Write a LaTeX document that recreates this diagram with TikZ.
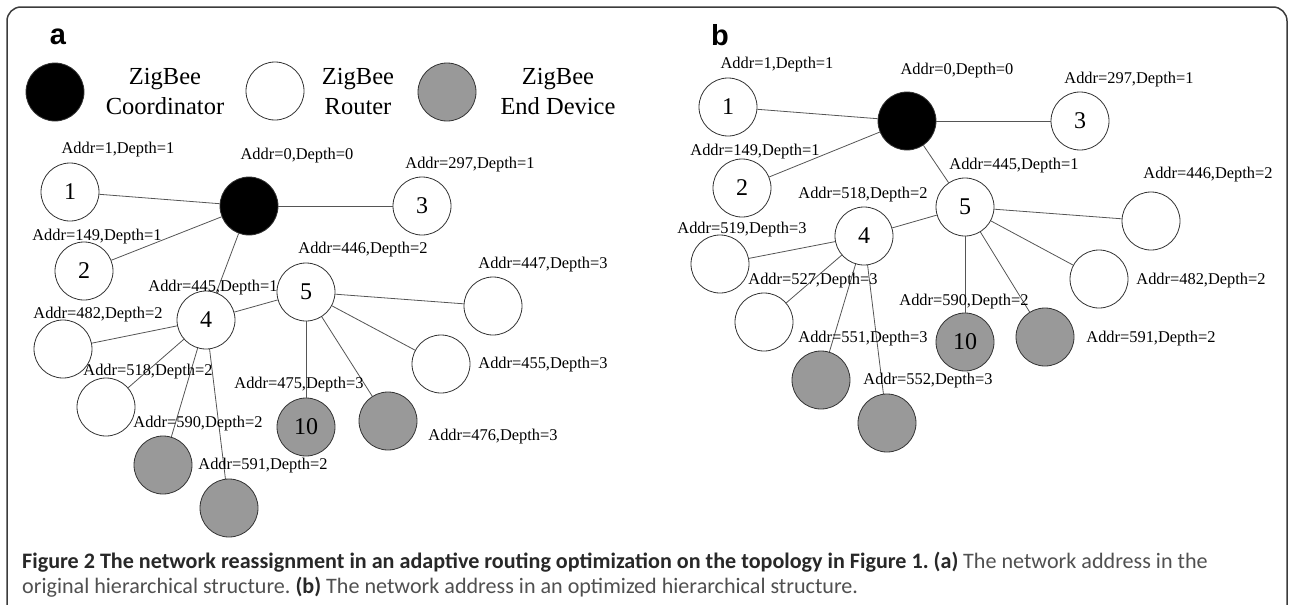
\documentclass[tikz,border=0pt]{standalone}
\usepackage{fontspec}
\setmainfont{Liberation Serif}
\newfontfamily\panelfont{Liberation Sans}
\newfontfamily\capfont{Carlito}
\definecolor{devgray}{RGB}{153,153,153}
\definecolor{framecol}{RGB}{60,60,60}
\definecolor{edgecol}{RGB}{85,85,85}
\definecolor{capdark}{RGB}{40,40,40}
\definecolor{caplight}{RGB}{80,80,80}
\begin{document}
\frenchspacing
\begin{tikzpicture}[x=1pt,y=-1pt,
  nd/.style={circle, draw=black!80, line width=0.8pt, minimum size=58pt, inner sep=0pt, font=\fontsize{24}{24}\selectfont},
  coord/.style={nd, fill=black},
  router/.style={nd, fill=white},
  enddev/.style={nd, fill=devgray},
  lbl/.style={anchor=center, inner sep=0pt, text height=11pt, text depth=0pt, font=\fontsize{16.4}{18}\selectfont},
  edge/.style={draw=edgecol, line width=0.8pt},
  legtxt/.style={align=center, inner sep=0pt, font=\fontsize{24.5}{30}\selectfont},
  panel/.style={anchor=base, inner sep=0pt, font=\panelfont\bfseries\fontsize{29}{29}\selectfont},
  capline/.style={anchor=base west, inner sep=0pt, font=\capfont\fontsize{22.1}{25}\selectfont, text=caplight}
]
\useasboundingbox (0,0) rectangle (1293,605);
% frame
\draw[framecol, line width=1.5pt, rounded corners=14pt] (7,620) -- (7,7) -- (1287,7) -- (1287,620);

% ---------- panel a ----------
\node[panel] (pa) at (58,44) {a};
% legend
\node[coord] (lg1) at (55,92) {};
\node[legtxt] (lt1) at (165,92) {ZigBee\\Coordinator};
\node[router] (lg2) at (275,91) {};
\node[legtxt] (lt2) at (358,92) {ZigBee\\Router};
\node[enddev] (lg3) at (447,92) {};
\node[legtxt] (lt3) at (558,92) {ZigBee\\End Device};

\node[coord] (a0) at (249,206) {};
\node[router] (a1) at (70,192) {1};
\node[router] (a3) at (422,206) {3};
\node[router] (a2) at (84,271) {2};
\node[router] (a4) at (206,320) {4};
\node[router] (a5) at (306,292) {5};
\node[router] (a447) at (493,306) {};
\node[router] (a455) at (441,364) {};
\node[router] (a482) at (63,349) {};
\node[router] (a518) at (106,407) {};
\node[enddev] (a10) at (306,427) {10};
\node[enddev] (a476) at (388,421) {};
\node[enddev] (a590) at (163,465) {};
\node[enddev] (a591) at (229,508) {};

\draw[edge] (a0) -- (a1);
\draw[edge] (a0) -- (a2);
\draw[edge] (a0) -- (a3);
\draw[edge] (a0) -- (a4);
\draw[edge] (a4) -- (a5);
\draw[edge] (a5) -- (a447);
\draw[edge] (a5) -- (a455);
\draw[edge] (a5) -- (a10);
\draw[edge] (a5) -- (a476);
\draw[edge] (a4) -- (a482);
\draw[edge] (a4) -- (a518);
\draw[edge] (a4) -- (a590);
\draw[edge] (a4) -- (a591);

\node[lbl] (la1) at (118,148) {Addr=1,Depth=1};
\node[lbl] (la0) at (297,154) {Addr=0,Depth=0};
\node[lbl] (la3) at (470,163) {Addr=297,Depth=1};
\node[lbl] (la2) at (97,235) {Addr=149,Depth=1};
\node[lbl] (la5) at (363,248) {Addr=446,Depth=2};
\node[lbl] (la4) at (213,286) {Addr=445,Depth=1};
\node[lbl] (la447) at (543,263) {Addr=447,Depth=3};
\node[lbl] (la482) at (98,313) {Addr=482,Depth=2};
\node[lbl] (la455) at (543,363) {Addr=455,Depth=3};
\node[lbl] (la518) at (148,370) {Addr=518,Depth=2};
\node[lbl] (la10) at (299,383) {Addr=475,Depth=3};
\node[lbl] (la476) at (493,435) {Addr=476,Depth=3};
\node[lbl] (la590) at (198,422) {Addr=590,Depth=2};
\node[lbl] (la591) at (263,464) {Addr=591,Depth=2};

% ---------- panel b ----------
\node[panel] (pb) at (720,45) {b};

\node[coord] (b0) at (907,121) {};
\node[router] (b1) at (728,107) {1};
\node[router] (b3) at (1080,121) {3};
\node[router] (b2) at (742,188) {2};
\node[router] (b5) at (965,207) {5};
\node[router] (b4) at (864,236) {4};
\node[router] (b446) at (1151,221) {};
\node[router] (b482) at (1099,279) {};
\node[router] (b519) at (720,264) {};
\node[router] (b527) at (764,322) {};
\node[enddev] (b10) at (965,342) {10};
\node[enddev] (b591) at (1045,337) {};
\node[enddev] (b551) at (821,380) {};
\node[enddev] (b552) at (887,423) {};

\draw[edge] (b0) -- (b1);
\draw[edge] (b0) -- (b2);
\draw[edge] (b0) -- (b3);
\draw[edge] (b0) -- (b5);
\draw[edge] (b5) -- (b4);
\draw[edge] (b5) -- (b446);
\draw[edge] (b5) -- (b482);
\draw[edge] (b5) -- (b10);
\draw[edge] (b5) -- (b591);
\draw[edge] (b4) -- (b519);
\draw[edge] (b4) -- (b527);
\draw[edge] (b4) -- (b551);
\draw[edge] (b4) -- (b552);

\node[lbl] (lb1) at (777,63) {Addr=1,Depth=1};
\node[lbl] (lb0) at (957,69) {Addr=0,Depth=0};
\node[lbl] (lb3) at (1129,78) {Addr=297,Depth=1};
\node[lbl] (lb2) at (755,150) {Addr=149,Depth=1};
\node[lbl] (lb5) at (1014,164) {Addr=445,Depth=1};
\node[lbl] (lb446) at (1208,173) {Addr=446,Depth=2};
\node[lbl] (lb4) at (863,193) {Addr=518,Depth=2};
\node[lbl] (lb519) at (742,228) {Addr=519,Depth=3};
\node[lbl] (lb482) at (1201,279) {Addr=482,Depth=2};
\node[lbl] (lb527) at (813,279) {Addr=527,Depth=3};
\node[lbl] (lb10) at (964,300) {Addr=590,Depth=2};
\node[lbl] (lb591) at (1151,337) {Addr=591,Depth=2};
\node[lbl] (lb551) at (863,337) {Addr=551,Depth=3};
\node[lbl] (lb552) at (928,379) {Addr=552,Depth=3};

% ---------- caption ----------
\node[capline] (cap1) at (22,568) {{\bfseries\color{capdark}Figure 2 The network reassignment in an adaptive routing optimization on the topology in Figure 1. (a)} The network address in the};
\node[capline] (cap2) at (22,593) {original hierarchical structure. {\bfseries\color{capdark}(b)} The network address in an optimized hierarchical structure.};
\end{tikzpicture}
\end{document}
